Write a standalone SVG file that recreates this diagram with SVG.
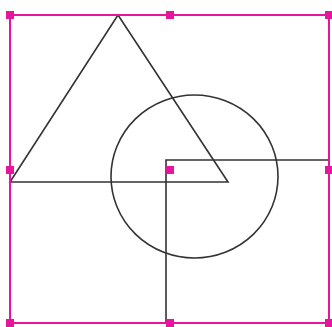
<svg xmlns="http://www.w3.org/2000/svg" width="332" height="327" viewBox="0 0 332 327">
<style>
.shape{fill:none;stroke:#333;stroke-width:1.6}
.sel{fill:none;stroke:#e6159b;stroke-width:2}
.h{fill:#e6159b}
</style>
<rect width="332" height="327" fill="#fff"/>
<g id="triangle"><polygon class="shape" points="118,15 228,182 10,182"/></g>
<g id="circle"><ellipse class="shape" cx="194.5" cy="176.5" rx="83.5" ry="81.5"/></g>
<g id="square"><polyline class="shape" points="329,160 166,160 166,323"/></g>
<g id="selection">
<rect class="sel" x="10" y="15" width="319" height="308"/>
<rect class="h" x="6" y="11" width="8" height="8"/>
<rect class="h" x="166" y="11" width="8" height="8"/>
<rect class="h" x="325" y="11" width="8" height="8"/>
<rect class="h" x="6" y="166" width="8" height="8"/>
<rect class="h" x="166" y="166" width="8" height="8"/>
<rect class="h" x="325" y="166" width="8" height="8"/>
<rect class="h" x="6" y="319" width="8" height="8"/>
<rect class="h" x="166" y="319" width="8" height="8"/>
<rect class="h" x="325" y="319" width="8" height="8"/>
</g>
</svg>
